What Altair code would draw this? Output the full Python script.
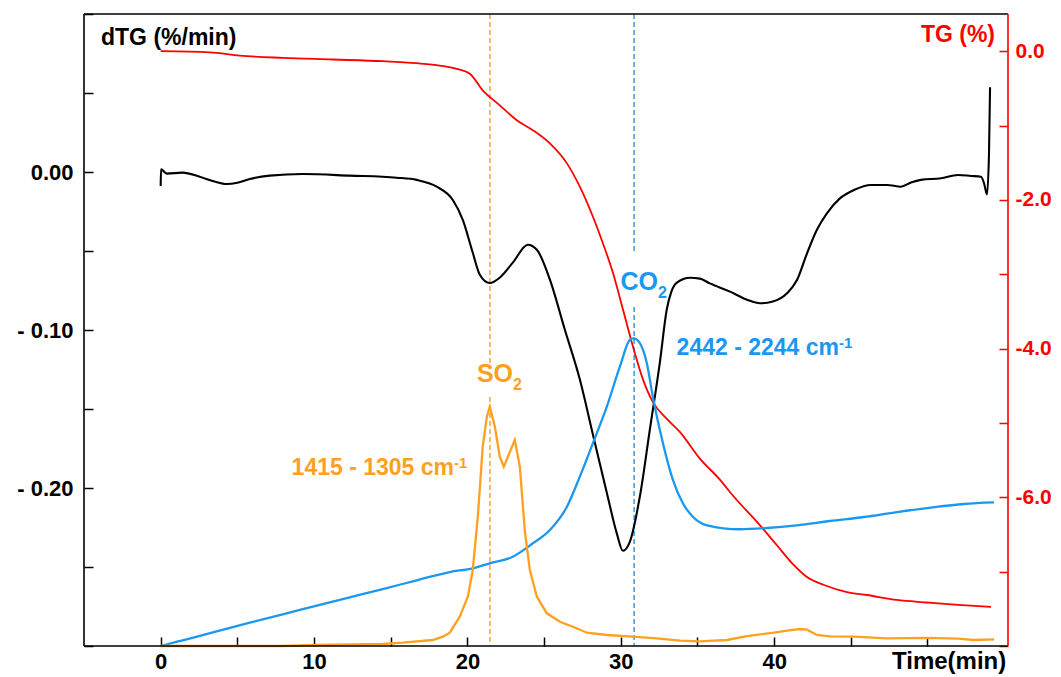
import altair as alt
import pandas as pd

# ---------------- data ----------------
# dTG curve (black, left axis, %/min)
dtg_t = [0.0, 0.02, 0.4, 1.43, 2.54, 3.5, 4.31, 5.0, 5.81, 7.11,
         9.26, 12.33, 15.39, 16.7, 18.0, 19.05, 19.7, 20.35, 20.81, 21.46,
         22.11, 22.96, 23.94, 24.53, 25.38, 26.35, 27.33, 28.18, 29.09,
         29.75, 30.14, 30.59, 31.25, 31.9, 32.55, 33.0, 33.3, 33.66, 34.51, 35.16,
         35.81, 37.12, 38.23, 39.08, 39.92, 40.84, 41.49, 42.14, 42.79, 43.44,
         44.29, 45.2, 46.31, 47.36, 48.27, 48.92, 49.58, 50.88, 51.99, 52.84,
         53.49, 53.69, 53.88, 54.01, 54.08]
dtg_v = [-0.0088, 0.0017, -0.0010, -0.0004, -0.0030, -0.0060, -0.0076, -0.0068, -0.0044, -0.0023,
         -0.0013, -0.0023, -0.0036, -0.0050, -0.0093, -0.0177, -0.0303, -0.0511, -0.0650, -0.0703,
         -0.0669, -0.0574, -0.0460, -0.0492, -0.0681, -0.0997, -0.1312, -0.1660, -0.2030,
         -0.2290, -0.2397, -0.2341, -0.2051, -0.1628, -0.1205, -0.0870, -0.0757, -0.0700, -0.0669, -0.0675,
         -0.0705, -0.0757, -0.0808, -0.0831, -0.0820, -0.0768, -0.0684, -0.0516, -0.0366, -0.0262,
         -0.0167, -0.0114, -0.0082, -0.0082, -0.0093, -0.0067, -0.0050, -0.0040, -0.0019, -0.0025,
         -0.0030, -0.0072, -0.0142, 0.0114, 0.0536]

# TG curve (red, right axis, %)
tg_t = [0.0, 3.2, 5.15, 7.96, 11.22, 14.48, 16.7, 18.2, 19.3, 20.16,
        21.0, 22.11, 23.22, 24.27, 25.38, 26.49, 27.33, 28.18, 28.83, 29.49,
        30.14, 30.72, 31.44, 32.09, 33.0, 33.85, 35.16, 36.46, 37.31, 39.08,
        40.18, 41.29, 42.14, 43.25, 44.75, 46.05, 48.01, 49.97, 51.99, 54.14]
tg_v = [0.0, -0.015, -0.059, -0.090, -0.112, -0.135, -0.162, -0.193, -0.237, -0.304,
        -0.527, -0.728, -0.929, -1.063, -1.241, -1.509, -1.822, -2.224, -2.580, -2.981,
        -3.472, -3.918, -4.410, -4.717, -4.945, -5.119, -5.480, -5.762, -5.976, -6.377,
        -6.645, -6.913, -7.073, -7.180, -7.274, -7.314, -7.381, -7.415, -7.448, -7.475]

# FTIR CO2 band 2442-2244 cm-1 (blue, relative intensity)
co2_t = [0.0, 1.43, 3.65, 5.81, 7.96, 10.18, 12.33, 14.48, 16.7, 18.85,
         20.35, 21.46, 22.96, 24.27, 25.38, 26.49, 27.33, 28.18, 29.09, 29.94,
         30.59, 30.85, 31.25, 31.7, 32.09, 32.75, 33.4, 34.05, 34.7, 35.62,
         37.77, 39.53, 41.49, 43.64, 45.86, 48.01, 50.23, 52.38, 54.34]
co2_v = [0.0, 0.009, 0.023, 0.037, 0.050, 0.064, 0.077, 0.090, 0.104, 0.117,
         0.123, 0.1309, 0.1413, 0.1625, 0.1835, 0.2204, 0.2679, 0.3207, 0.3786, 0.4419,
         0.4842, 0.4869, 0.479, 0.4473, 0.3945, 0.3207, 0.2627, 0.2258, 0.2046, 0.191,
         0.1847, 0.1867, 0.191, 0.1978, 0.2041, 0.212, 0.2191, 0.2247, 0.2271]

# FTIR SO2 band 1415-1305 cm-1 (orange, relative intensity)
so2_t = [0.0, 3.65, 7.96, 10.18, 14.48, 15.79, 17.74, 18.4, 18.85, 19.5,
         20.03, 20.35, 20.68, 21.0, 21.27, 21.46, 21.79, 22.11, 22.37, 22.64,
         23.09, 23.42, 23.74, 24.07, 24.53, 25.18, 26.03, 26.88, 27.79, 29.09,
         30.79, 32.35, 33.86, 35.16, 36.92, 38.23, 39.99, 40.84, 41.68, 42.14,
         42.79, 43.64, 45.2, 47.36, 49.97, 51.99, 53.03, 54.34]
so2_v = [0.0, 0.0, 0.0, 0.0016, 0.0032, 0.0052, 0.0095, 0.0147, 0.021, 0.0464,
         0.078, 0.1203, 0.2046, 0.3153, 0.3628, 0.3786, 0.347, 0.2995, 0.2837, 0.2995,
         0.326, 0.2837, 0.1835, 0.1203, 0.078, 0.0517, 0.0384, 0.0305, 0.021, 0.0174,
         0.0147, 0.0122, 0.0085, 0.0074, 0.0095, 0.0158, 0.021, 0.0244, 0.0269, 0.0259,
         0.0174, 0.0153, 0.0149, 0.0122, 0.0127, 0.0117, 0.0095, 0.0106]

# marker times (dashed lines) of the gas peaks
so2_marker_t = [21.47]
co2_marker_t = [30.87]

# axis ticks
x_ticks = [0, 5, 10, 15, 20, 25, 30, 35, 40, 45, 50]
dtg_ticks = [-0.3, -0.25, -0.2, -0.15, -0.1, -0.05, 0.0, 0.05, 0.1]
tg_ticks = [-8, -7, -6, -5, -4, -3, -2, -1, 0]

# ---------------- styling ----------------
W, H = 924, 632
BLACK = "#000000"
RED = "#FF0000"
BLUE = "#1A98F0"
ORANGE = "#FFA020"
FONT = "Liberation Sans, Arial, sans-serif"
TICK_FS = 22

dtg_df = pd.DataFrame({"t": dtg_t, "dtg": dtg_v})
tg_df = pd.DataFrame({"t": tg_t, "tg": tg_v})
co2_df = pd.DataFrame({"t": co2_t, "ir": co2_v})
so2_df = pd.DataFrame({"t": so2_t, "ir": so2_v})
dummy = pd.DataFrame({"a": [0]})

x_enc = alt.X(
    "t:Q",
    scale=alt.Scale(domain=[-5, 55.25], nice=False, zero=False),
    axis=alt.Axis(
        values=x_ticks,
        labelExpr="datum.value <= 40 && datum.value % 10 === 0 ? '' + datum.value : ''",
        offset=-9, tickSize=9, tickWidth=1.5, tickColor=BLACK,
        domain=False, grid=False, title=None, labelFlush=False, labelOverlap=False,
        labelFont=FONT, labelFontSize=TICK_FS, labelFontWeight="bold", labelColor=BLACK,
        labelPadding=5,
    ),
)

dtg_line = alt.Chart(dtg_df).mark_line(color=BLACK, strokeWidth=2.1, interpolate="monotone").encode(
    x=x_enc,
    y=alt.Y(
        "dtg:Q",
        scale=alt.Scale(domain=[-0.3, 0.1], nice=False, zero=False),
        axis=alt.Axis(
            orient="left", values=dtg_ticks,
            labelExpr="datum.value === 0 ? '0.00' : (datum.value === -0.1 || datum.value === -0.2) ? '- ' + format(-datum.value, '.2f') : ''",
            offset=-9, tickSize=9, tickWidth=1.5, tickColor=BLACK,
            domain=False, grid=False, title=None, labelOverlap=False, labelFlush=False,
            labelFont=FONT, labelFontSize=TICK_FS, labelFontWeight="bold", labelColor=BLACK,
            labelPadding=11,
        ),
    ),
)

tg_line = alt.Chart(tg_df).mark_line(color=RED, strokeWidth=1.8, interpolate="monotone").encode(
    x=x_enc,
    y=alt.Y(
        "tg:Q",
        scale=alt.Scale(domain=[-8, 0.5], nice=False, zero=False),
        axis=alt.Axis(
            orient="right", values=tg_ticks,
            labelExpr="(datum.value % 2 === 0 && datum.value > -8) ? (datum.value < 0 ? '-' : '') + format(abs(datum.value), '.1f') : ''",
            offset=-9, tickSize=9, tickWidth=1.5, tickColor=RED,
            domain=False, grid=False, title=None, labelOverlap=False, labelFlush=False,
            labelFont=FONT, labelFontSize=21, labelFontWeight="bold", labelColor=RED,
            labelPadding=7,
        ),
    ),
)

ir_scale = alt.Scale(domain=[0, 1], nice=False, zero=False)
co2_line = alt.Chart(co2_df).mark_line(color=BLUE, strokeWidth=2.3, interpolate="monotone").encode(
    x=x_enc, y=alt.Y("ir:Q", scale=ir_scale, axis=None)
)
so2_line = alt.Chart(so2_df).mark_line(color=ORANGE, strokeWidth=2.3, interpolate="linear").encode(
    x=x_enc, y=alt.Y("ir:Q", scale=ir_scale, axis=None)
)


def vrule(times, y0, y1, color):
    return alt.Chart(pd.DataFrame({"t": times})).mark_rule(
        color=color, strokeDash=[5, 3], strokeWidth=1.4
    ).encode(x=x_enc, y=alt.value(y0), y2=alt.value(y1))


def text(txt, x, y, color, size=23, align="left"):
    return alt.Chart(dummy).mark_text(
        text=txt, align=align, baseline="alphabetic", font=FONT,
        fontSize=size, fontWeight="bold", color=color,
    ).encode(x=alt.value(x), y=alt.value(y))


def frame(x, x2, y, y2, color):
    return alt.Chart(dummy).mark_rule(color=color, strokeWidth=1.6).encode(
        x=alt.value(x), x2=alt.value(x2), y=alt.value(y), y2=alt.value(y2)
    )


layers = [
    vrule(so2_marker_t, 0, 351, ORANGE),
    vrule(so2_marker_t, 383, H, ORANGE),
    vrule(co2_marker_t, 0, 238, BLUE),
    vrule(co2_marker_t, 293, H, BLUE),
    dtg_line,
    tg_line,
    co2_line,
    so2_line,
    text("dTG (%/min)", 17, 31, BLACK),
    text("TG (%)", 911, 28, RED, align="right"),
    text("Time(min)", 808, 655, BLACK, size=24),
    text("CO", 574, 276, BLUE, size=25, align="right"),
    text("2", 574, 284, BLUE, size=16),
    text("SO", 429, 368, ORANGE, size=25, align="right"),
    text("2", 429, 376, ORANGE, size=16),
    text("2442 - 2244 cm", 755, 341, BLUE, size=23, align="right"),
    text("-1", 755, 334, BLUE, size=15),
    text("1415 - 1305 cm", 370, 461, ORANGE, size=23, align="right"),
    text("-1", 370, 454, ORANGE, size=15),
    frame(0, W, 0, 0, BLACK),
    frame(0, W, H, H, BLACK),
    frame(0, 0, 0, H, BLACK),
    frame(W, W, 0, H, RED),
]

chart = (
    alt.layer(*layers)
    .resolve_scale(y="independent")
    .properties(
        width=W, height=H,
        padding={"left": 76, "top": 6, "right": 45, "bottom": 34},
        autosize=alt.AutoSizeParams(type="none"),
        background="white",
    )
    .configure_view(stroke=None)
)

chart.save("out.html", embed_options={"renderer": "svg", "actions": False})
